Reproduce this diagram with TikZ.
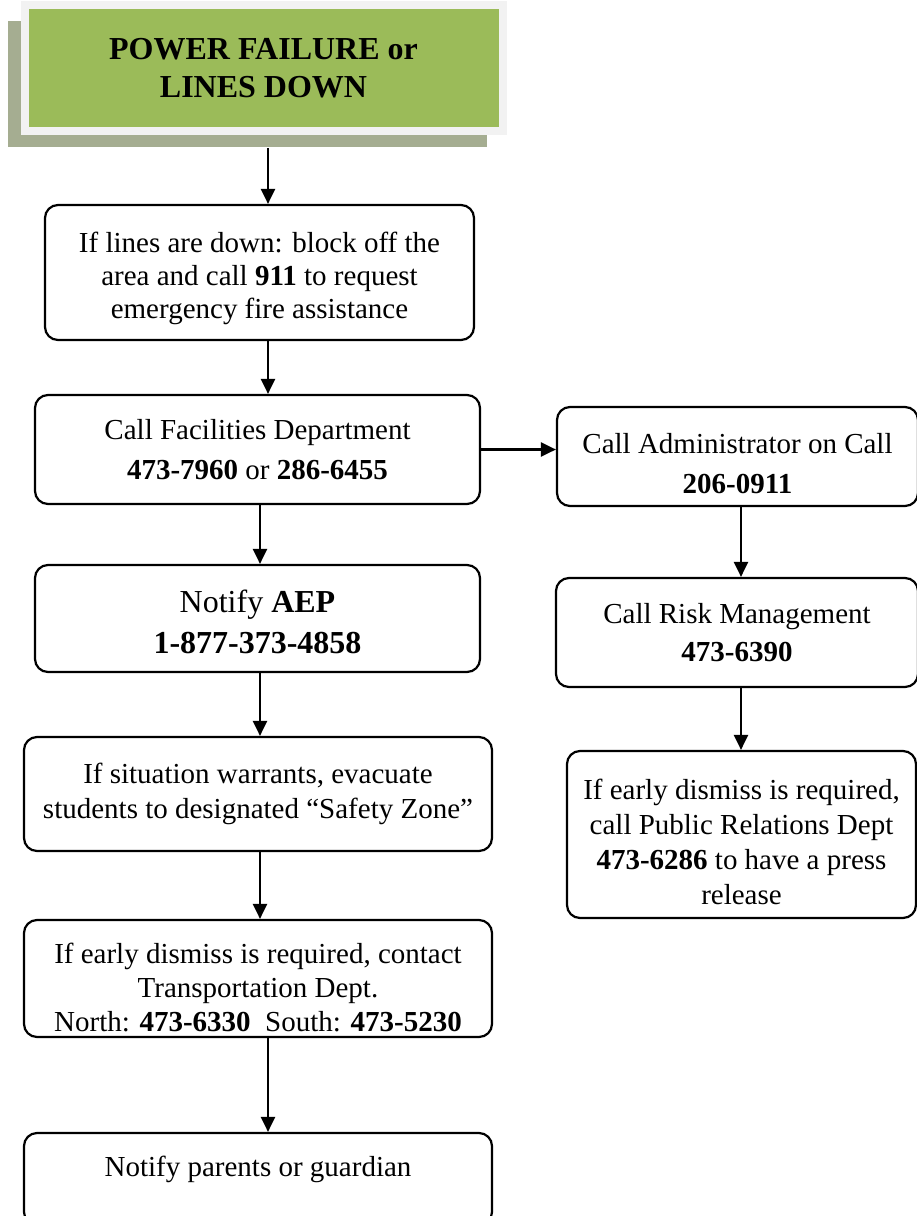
\documentclass[tikz,border=0pt]{standalone}
\usepackage{fontspec}
\setmainfont{Liberation Serif}
\usetikzlibrary{positioning,arrows.meta}

\definecolor{titlegreen}{HTML}{9BBB59}
\definecolor{titlerim}{HTML}{F2F2F2}
\definecolor{titleshade}{HTML}{A5AD91}

% struts to nudge text inside a box
\newcommand{\padtop}[1]{\rule{0pt}{#1}}
\newcommand{\padbot}[1]{\rule[-#1]{0pt}{0pt}}

\begin{document}
\begin{tikzpicture}[
    x=1pt, y=-1pt,
    every node/.style={font=\fontsize{29}{33}\selectfont},
    stepbox/.style={draw, rounded corners=13pt, line width=2.2pt, align=center, inner sep=0pt},
    titlebox/.style={fill=titlegreen, draw=titlerim, line width=8pt, align=center,
                     font=\fontsize{32}{38}\selectfont\bfseries,
                     minimum width=478, minimum height=126},
    >={Triangle[length=15pt,width=14pt]}, line width=2.2pt
]
  \useasboundingbox (0,0) rectangle (917,1216);

  % title with its shadow
  \node[fill=titleshade, minimum width=479, minimum height=126, inner sep=0pt] (shade) at (247.5,84) {};
  \node[titlebox] (title) at (263.5,68) {POWER FAILURE or\\LINES DOWN};

  % left column
  \node[stepbox, minimum width=429, minimum height=135] (lines) at (259.5,272.5)
    {\padtop{33pt}If lines are down: block off the\\area and call \textbf{911} to request\\emergency fire assistance};
  \node[stepbox, minimum width=445, minimum height=109, font=\fontsize{29}{40}\selectfont] (facil) at (257.5,449.5)
    {Call Facilities Department\\\textbf{473-7960} or \textbf{286-6455}};
  \node[stepbox, minimum width=445, minimum height=107, font=\fontsize{32}{41}\selectfont] (aep) at (257.5,618.5)
    {\padtop{30pt}Notify \textbf{AEP}\\\textbf{1-877-373-4858}};
  \node[stepbox, minimum width=468, minimum height=114, font=\fontsize{29}{35}\selectfont] (evac) at (258,794)
    {If situation warrants, evacuate\\students to designated “Safety Zone”};
  \node[stepbox, minimum width=468, minimum height=117, font=\fontsize{29}{34}\selectfont] (transp) at (258,978.5)
    {\padtop{39pt}If early dismiss is required, contact\\Transportation Dept.\\North: \textbf{473-6330}\ \ South: \textbf{473-5230}};
  \node[stepbox, minimum width=468, minimum height=92] (parents) at (258,1179)
    {Notify parents or guardian\padbot{26pt}};

  % right column
  \node[stepbox, minimum width=361, minimum height=99, font=\fontsize{29}{40}\selectfont] (admin) at (737.5,456.5)
    {\padtop{34pt}Call Administrator on Call\\\textbf{206-0911}};
  \node[stepbox, minimum width=362, minimum height=109, font=\fontsize{29}{38}\selectfont] (risk) at (737,632.5)
    {Call Risk Management\\\textbf{473-6390}};
  \node[stepbox, minimum width=349, minimum height=167, font=\fontsize{29}{35}\selectfont] (press) at (741.5,834.5)
    {\padtop{36pt}If early dismiss is required,\\call Public Relations Dept\\\textbf{473-6286} to have a press\\release};

  % arrow columns
  \coordinate (colL) at (268,0);
  \coordinate (colM) at (260,0);
  \coordinate (colR) at (741,0);

  \draw[->] (shade.south -| colL) -- (lines.north -| colL);
  \draw[->] (lines.south -| colL) -- (facil.north -| colL);
  \draw[->] (facil.south -| colM) -- (aep.north -| colM);
  \draw[->] (aep.south -| colM) -- (evac.north -| colM);
  \draw[->] (evac.south -| colM) -- (transp.north -| colM);
  \draw[->] (transp.south -| colL) -- (parents.north -| colL);
  \draw[->] (facil.east) -- (facil.east -| admin.west);
  \draw[->] (admin.south -| colR) -- (risk.north -| colR);
  \draw[->] (risk.south -| colR) -- (press.north -| colR);
\end{tikzpicture}
\end{document}
